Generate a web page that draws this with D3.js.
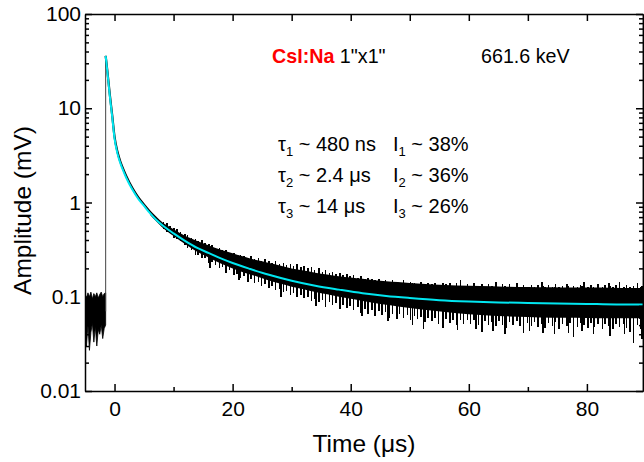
<!DOCTYPE html>
<html>
<head>
<meta charset="utf-8">
<script src="https://cdn.jsdelivr.net/npm/d3@7"></script>
<style>
body { margin: 0; background: #fff; }
text { font-family: "Liberation Sans", Arial, Helvetica, sans-serif; }
</style>
</head>
<body>
<script>
// fitted decay (cyan)
const fitT = [-1.5, -1.2, -0.8, -0.4, 0, 0.5, 1, 1.5, 2, 3, 4, 5, 6, 7, 8, 10, 12, 14, 16, 18, 20, 23, 26, 30, 34, 38, 42, 46, 50, 55, 60, 65, 70, 75, 80, 85, 89.5];
const fitV = [36, 24, 13.5, 8.2, 4.8, 3.3, 2.6, 2.15, 1.82, 1.38, 1.1, 0.92, 0.77, 0.66, 0.58, 0.47, 0.39, 0.33, 0.29, 0.255, 0.228, 0.197, 0.172, 0.148, 0.131, 0.119, 0.109, 0.102, 0.097, 0.092, 0.089, 0.087, 0.086, 0.085, 0.084, 0.083, 0.083];

// measured trace: baseline before the pulse
const preT = [-5, -4.75, -4.5, -4.25, -4, -3.75, -3.5, -3.25, -3, -2.75, -2.5, -2.25, -2, -1.75, -1.5];
const preHi = [0.105, 0.098, 0.11, 0.1, 0.112, 0.095, 0.108, 0.1, 0.11, 0.097, 0.106, 0.112, 0.1, 0.108, 0.11];
const preLo = [0.045, 0.03, 0.05, 0.027, 0.042, 0.052, 0.033, 0.048, 0.03, 0.045, 0.04, 0.05, 0.036, 0.046, 0.05];

// rising edge and early decay of the measured trace
const riseT = [-1.5, -1.5];
const riseV = [0.07, 36];
const traceT = [-1.5, -1.2, -0.8, -0.4, 0, 0.5, 1, 1.5, 2, 3, 4, 5, 6, 7, 8];
const traceV = [36, 24.5, 14, 8.5, 5.0, 3.45, 2.7, 2.25, 1.9, 1.43, 1.14, 0.95, 0.8, 0.69, 0.6];

// noisy tail: solid core of the band
const bandT = [6, 8, 10, 12, 14, 16, 18, 20, 22, 24, 26, 28, 30, 32, 34, 36, 38, 40, 42, 44, 46, 48, 50, 54, 58, 62, 66, 70, 74, 78, 82, 86, 89.5];
const bandHi = [0.80, 0.62, 0.52, 0.44, 0.39, 0.35, 0.315, 0.29, 0.265, 0.245, 0.23, 0.215, 0.20, 0.19, 0.18, 0.172, 0.165, 0.16, 0.155, 0.15, 0.146, 0.143, 0.14, 0.135, 0.132, 0.13, 0.128, 0.127, 0.126, 0.125, 0.125, 0.124, 0.124];
const bandLo = [0.74, 0.55, 0.44, 0.36, 0.30, 0.26, 0.225, 0.20, 0.18, 0.165, 0.15, 0.138, 0.128, 0.12, 0.112, 0.106, 0.10, 0.095, 0.09, 0.086, 0.082, 0.079, 0.076, 0.071, 0.067, 0.064, 0.062, 0.061, 0.06, 0.06, 0.059, 0.059, 0.059];

// noisy tail: single excursions (time, lowest, highest)
const hairT = [8.3, 8.9, 9.4, 10.1, 10.6, 11.2, 11.9, 12.4, 13.0, 13.7, 14.1, 14.8, 15.3, 16.0, 16.5, 17.1, 17.8, 18.3, 18.9, 19.5, 20.2, 20.7, 21.3, 21.9, 22.6, 23.1, 23.7, 24.4, 24.9, 25.5, 26.2, 26.7, 27.3, 27.9, 28.6, 29.1, 29.8, 30.3, 30.9, 31.6, 32.1, 32.8, 33.4, 33.9, 34.6, 35.2, 35.7, 36.4, 36.9, 37.5, 38.2, 38.7, 39.4, 39.9, 40.5, 41.2, 41.7, 42.4, 42.9, 43.6, 44.1, 44.8, 45.3, 45.9, 46.6, 47.1, 47.8, 48.3, 48.9, 49.6, 50.1, 50.8, 51.3, 51.9, 52.6, 53.1, 53.8, 54.3, 54.9, 55.6, 56.1, 56.8, 57.3, 57.9, 58.6, 59.1, 59.8, 60.3, 60.9, 61.6, 62.2, 62.7, 63.3, 63.9, 64.6, 65.1, 65.7, 66.4, 66.9, 67.5, 68.2, 68.7, 69.3, 69.9, 70.6, 71.1, 71.7, 72.4, 72.9, 73.5, 74.2, 74.7, 75.3, 75.9, 76.6, 77.1, 77.7, 78.4, 78.9, 79.5, 80.2, 80.7, 81.3, 81.9, 82.6, 83.1, 83.7, 84.4, 84.9, 85.5, 86.2, 86.7, 87.3, 87.9, 88.6, 89.1,
    16.2, 21.1, 28.2, 34.1, 41.9, 46.3, 50.5, 52.3, 58.1, 61.2, 64.1, 66.1, 70.3, 72.6, 74.5, 76.9, 79.2, 81.1, 83.9, 86.4, 89.3];
const hairHi = [0.62, 0.60, 0.56, 0.53, 0.52, 0.49, 0.46, 0.45, 0.42, 0.41, 0.39, 0.40, 0.37, 0.36, 0.35, 0.33, 0.33, 0.31, 0.31, 0.29, 0.29, 0.28, 0.28, 0.27, 0.26, 0.27, 0.25, 0.26, 0.24, 0.25, 0.24, 0.23, 0.24, 0.22, 0.23, 0.215, 0.22, 0.21, 0.22, 0.205, 0.21, 0.20, 0.205, 0.19, 0.20, 0.185, 0.19, 0.18, 0.185, 0.175, 0.18, 0.17, 0.175, 0.165, 0.17, 0.16, 0.165, 0.155, 0.16, 0.155, 0.15, 0.155, 0.145, 0.15, 0.145, 0.15, 0.145, 0.14, 0.15, 0.14, 0.145, 0.14, 0.135, 0.145, 0.135, 0.14, 0.135, 0.14, 0.13, 0.14, 0.135, 0.14, 0.13, 0.14, 0.15, 0.13, 0.135, 0.13, 0.14, 0.13, 0.135, 0.128, 0.135, 0.13, 0.145, 0.128, 0.135, 0.128, 0.136, 0.128, 0.14, 0.127, 0.132, 0.127, 0.134, 0.126, 0.132, 0.145, 0.126, 0.133, 0.127, 0.135, 0.126, 0.13, 0.137, 0.125, 0.131, 0.126, 0.134, 0.142, 0.126, 0.132, 0.125, 0.135, 0.127, 0.133, 0.14, 0.126, 0.132, 0.145, 0.127, 0.134, 0.126, 0.131, 0.14, 0.128,
    0.30, 0.24, 0.20, 0.17, 0.15, 0.14, 0.14, 0.135, 0.13, 0.13, 0.128, 0.13, 0.128, 0.13, 0.128, 0.13, 0.13, 0.128, 0.13, 0.128, 0.13];
const hairLo = [0.52, 0.49, 0.47, 0.42, 0.41, 0.39, 0.35, 0.33, 0.31, 0.28, 0.28, 0.26, 0.255, 0.23, 0.235, 0.215, 0.20, 0.205, 0.18, 0.19, 0.17, 0.175, 0.16, 0.165, 0.145, 0.155, 0.14, 0.145, 0.13, 0.135, 0.125, 0.13, 0.118, 0.122, 0.112, 0.115, 0.105, 0.11, 0.10, 0.104, 0.096, 0.10, 0.09, 0.095, 0.088, 0.092, 0.078, 0.088, 0.082, 0.085, 0.075, 0.082, 0.076, 0.08, 0.072, 0.077, 0.068, 0.074, 0.066, 0.072, 0.062, 0.07, 0.064, 0.069, 0.06, 0.066, 0.058, 0.065, 0.06, 0.064, 0.056, 0.062, 0.058, 0.061, 0.054, 0.06, 0.055, 0.059, 0.052, 0.047, 0.058, 0.053, 0.057, 0.05, 0.056, 0.051, 0.057, 0.052, 0.056, 0.05, 0.042, 0.055, 0.05, 0.054, 0.049, 0.055, 0.05, 0.047, 0.054, 0.05, 0.055, 0.049, 0.041, 0.053, 0.049, 0.054, 0.048, 0.052, 0.047, 0.053, 0.049, 0.054, 0.046, 0.052, 0.049, 0.053, 0.037, 0.048, 0.053, 0.05, 0.047, 0.053, 0.048, 0.052, 0.046, 0.051, 0.049, 0.045, 0.052, 0.048, 0.051, 0.047, 0.042, 0.032, 0.05, 0.046,
    0.20, 0.15, 0.10, 0.08, 0.062, 0.055, 0.05, 0.045, 0.044, 0.045, 0.043, 0.04, 0.043, 0.041, 0.04, 0.041, 0.043, 0.04, 0.038, 0.04, 0.036];

const yMajor = [0.01, 0.1, 1, 10, 100];
const yLabels = ['0.01', '0.1', '1', '10', '100'];
const xMajor = [0, 20, 40, 60, 80];
const xMinor = [10, 30, 50, 70];

const width = 644, height = 462;
const plotL = 85, plotR = 643, plotT = 14, plotB = 391;

const svg = d3.select('body').append('svg')
    .attr('width', width)
    .attr('height', height);

const x = d3.scaleLinear().domain([-5, 89.5]).range([plotL, plotR]);
const y = d3.scaleLog().domain([0.01, 100]).range([plotB, plotT]);

const yMinor = [];
yMajor.slice(0, -1).forEach(d => {
    [2, 3, 4, 5, 6, 7, 8, 9].forEach(m => yMinor.push(d * m));
});

svg.append('clipPath').attr('id', 'clip')
    .append('rect')
    .attr('x', plotL).attr('y', plotT)
    .attr('width', plotR - plotL).attr('height', plotB - plotT);

const plot = svg.append('g').attr('clip-path', 'url(#clip)');

// pre-pulse noise
plot.append('path')
    .datum(preT)
    .attr('fill', '#000')
    .attr('stroke', '#000')
    .attr('stroke-width', 0.8)
    .attr('d', d3.area()
        .x(d => x(d))
        .y0((d, i) => y(preLo[i]))
        .y1((d, i) => y(preHi[i])));

plot.append('path')
    .datum(riseT)
    .attr('fill', 'none')
    .attr('stroke', '#444')
    .attr('stroke-width', 1)
    .attr('d', d3.line().x(d => x(d)).y((d, i) => y(riseV[i])));

plot.append('path')
    .datum(traceT)
    .attr('fill', 'none')
    .attr('stroke', '#000')
    .attr('stroke-width', 2.2)
    .attr('d', d3.line()
        .x(d => x(d))
        .y((d, i) => y(traceV[i]))
        .curve(d3.curveMonotoneX));

plot.append('path')
    .datum(bandT)
    .attr('fill', '#000')
    .attr('d', d3.area()
        .x(d => x(d))
        .y0((d, i) => y(bandLo[i]))
        .y1((d, i) => y(bandHi[i]))
        .curve(d3.curveMonotoneX));

plot.selectAll('line.hair')
    .data(hairT)
    .join('line')
    .attr('class', 'hair')
    .attr('x1', d => x(d)).attr('x2', d => x(d))
    .attr('y1', (d, i) => y(hairLo[i]))
    .attr('y2', (d, i) => y(hairHi[i]))
    .attr('stroke', '#000')
    .attr('stroke-width', 1.5)
    .attr('shape-rendering', 'crispEdges');

// fit on top
plot.append('path')
    .datum(fitT)
    .attr('fill', 'none')
    .attr('stroke', '#00e6f0')
    .attr('stroke-width', 2)
    .attr('d', d3.line()
        .x(d => x(d))
        .y((d, i) => y(fitV[i]))
        .curve(d3.curveMonotoneX));

// axes, ticks pointing inwards on all four sides
function styleAxis(g) {
    g.selectAll('path, line').attr('stroke', '#000').attr('stroke-width', 1.5);
    g.selectAll('text').attr('fill', '#000').style('font-size', '21px');
}

svg.append('g')
    .attr('transform', `translate(0,${plotB})`)
    .call(d3.axisBottom(x).tickValues(xMajor).tickFormat(d3.format('d')).tickSize(-7).tickSizeOuter(0).tickPadding(10))
    .call(styleAxis)
    .call(g => g.select('.domain').remove());
svg.append('g')
    .attr('transform', `translate(0,${plotB})`)
    .call(d3.axisBottom(x).tickValues(xMinor).tickFormat('').tickSize(-4).tickSizeOuter(0))
    .call(styleAxis);

svg.append('g')
    .attr('transform', `translate(0,${plotT})`)
    .call(d3.axisTop(x).tickValues(xMajor.concat(xMinor)).tickFormat('').tickSize(-7).tickSizeOuter(0))
    .call(styleAxis);

svg.append('g')
    .attr('transform', `translate(${plotL},0)`)
    .call(d3.axisLeft(y).tickValues(yMajor).tickFormat((d, i) => yLabels[i]).tickSize(-7).tickSizeOuter(0).tickPadding(4))
    .call(styleAxis)
    .call(g => g.select('.domain').remove());
svg.append('g')
    .attr('transform', `translate(${plotL},0)`)
    .call(d3.axisLeft(y).tickValues(yMinor).tickFormat('').tickSize(-4).tickSizeOuter(0))
    .call(styleAxis);

svg.append('g')
    .attr('transform', `translate(${plotR},0)`)
    .call(d3.axisRight(y).tickValues(yMajor).tickFormat('').tickSize(-7).tickSizeOuter(0))
    .call(styleAxis);
svg.append('g')
    .attr('transform', `translate(${plotR},0)`)
    .call(d3.axisRight(y).tickValues(yMinor).tickFormat('').tickSize(-4).tickSizeOuter(0))
    .call(styleAxis);

// axis titles
svg.append('text')
    .attr('x', (plotL + plotR) / 2)
    .attr('y', 452)
    .attr('text-anchor', 'middle')
    .style('font-size', '24.5px')
    .text('Time (μs)');

svg.append('text')
    .attr('transform', `translate(31,${(plotT + plotB) / 2 + 8}) rotate(-90)`)
    .attr('text-anchor', 'middle')
    .style('font-size', '24.5px')
    .text('Amplitude (mV)');

// annotations
const head = svg.append('text').attr('x', 272).attr('y', 63).style('font-size', '19.7px');
head.append('tspan').attr('fill', '#ff0000').attr('font-weight', 'bold').text('CsI:Na');
head.append('tspan').attr('fill', '#000').text(' 1"x1"');

svg.append('text').attr('x', 481).attr('y', 63).style('font-size', '19.7px').text('661.6 keV');

const tauLines = [
    { n: '1', tau: ' ~ 480 ns', amp: ' ~ 38%' },
    { n: '2', tau: ' ~ 2.4 μs', amp: ' ~ 36%' },
    { n: '3', tau: ' ~ 14 μs', amp: ' ~ 26%' }
];
tauLines.forEach((d, i) => {
    const yy = 151 + i * 31;
    const t = svg.append('text').attr('x', 278).attr('y', yy).style('font-size', '20px');
    t.append('tspan').text('τ');
    t.append('tspan').attr('dy', 5).style('font-size', '13px').text(d.n);
    t.append('tspan').attr('dy', -5).text(d.tau);
    const a = svg.append('text').attr('x', 393).attr('y', yy).style('font-size', '20px');
    a.append('tspan').text('I');
    a.append('tspan').attr('dy', 5).style('font-size', '13px').text(d.n);
    a.append('tspan').attr('dy', -5).text(d.amp);
});
</script>
</body>
</html>
